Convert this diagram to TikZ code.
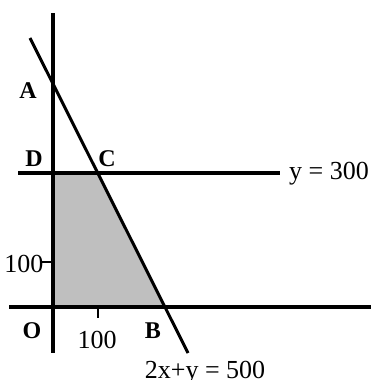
\documentclass[tikz,border=0pt]{standalone}
\usepackage{fontspec}
\setmainfont{Liberation Serif}
\begin{document}
\begin{tikzpicture}[x=1pt,y=-1pt,
  axis/.style={line width=4pt},
  lbl/.style={font=\fontsize{24}{27}\selectfont\bfseries,inner sep=0pt},
  num/.style={font=\fontsize{26}{29}\selectfont,inner sep=0pt},
  tick/.style={line width=1.5pt}]
\useasboundingbox (0,0) rectangle (371,380);
% key points
\coordinate (O) at (53,307);
\coordinate (Dp) at (53,173);
\coordinate (Cp) at (97,173);
\coordinate (Bp) at (165,307);
\coordinate (ytop) at (53,13);
\coordinate (ybot) at (53,353);
\coordinate (xl) at (9,307);
\coordinate (xr) at (371,307);
\coordinate (hl) at (18,173);
\coordinate (hr) at (280,173);
\coordinate (st) at (30,38);
\coordinate (sb) at (188,353);
\coordinate (ty1) at (42,262);
\coordinate (ty2) at (53,262);
\coordinate (tx1) at (98,307);
\coordinate (tx2) at (98,318);
% region
\fill[black!25] (O) -- (Dp) -- (Cp) -- (Bp) -- cycle;
% axes and lines
\draw[axis] (ytop) -- (ybot);
\draw[axis] (xl) -- (xr);
\draw[axis] (hl) -- (hr);
\draw[line width=3pt] (st) -- (sb);
\draw[tick] (ty1) -- (ty2);
\draw[tick] (tx1) -- (tx2);
% labels
\node[lbl] (lA) at (28,91) {A};
\node[lbl] (lD) at (34,159) {D};
\node[lbl] (lC) at (107,159) {C};
\node[lbl] (lO) at (32,331) {O};
\node[lbl] (lB) at (153,331) {B};
\node[num] (n100x) at (97,340) {100};
\node[num] (n100y) at (24,264) {100};
\node[num,anchor=west] (ly) at (289,174) {y = 300};
\node[num] (leq) at (205,373) {2x+y = 500};
\end{tikzpicture}
\end{document}
